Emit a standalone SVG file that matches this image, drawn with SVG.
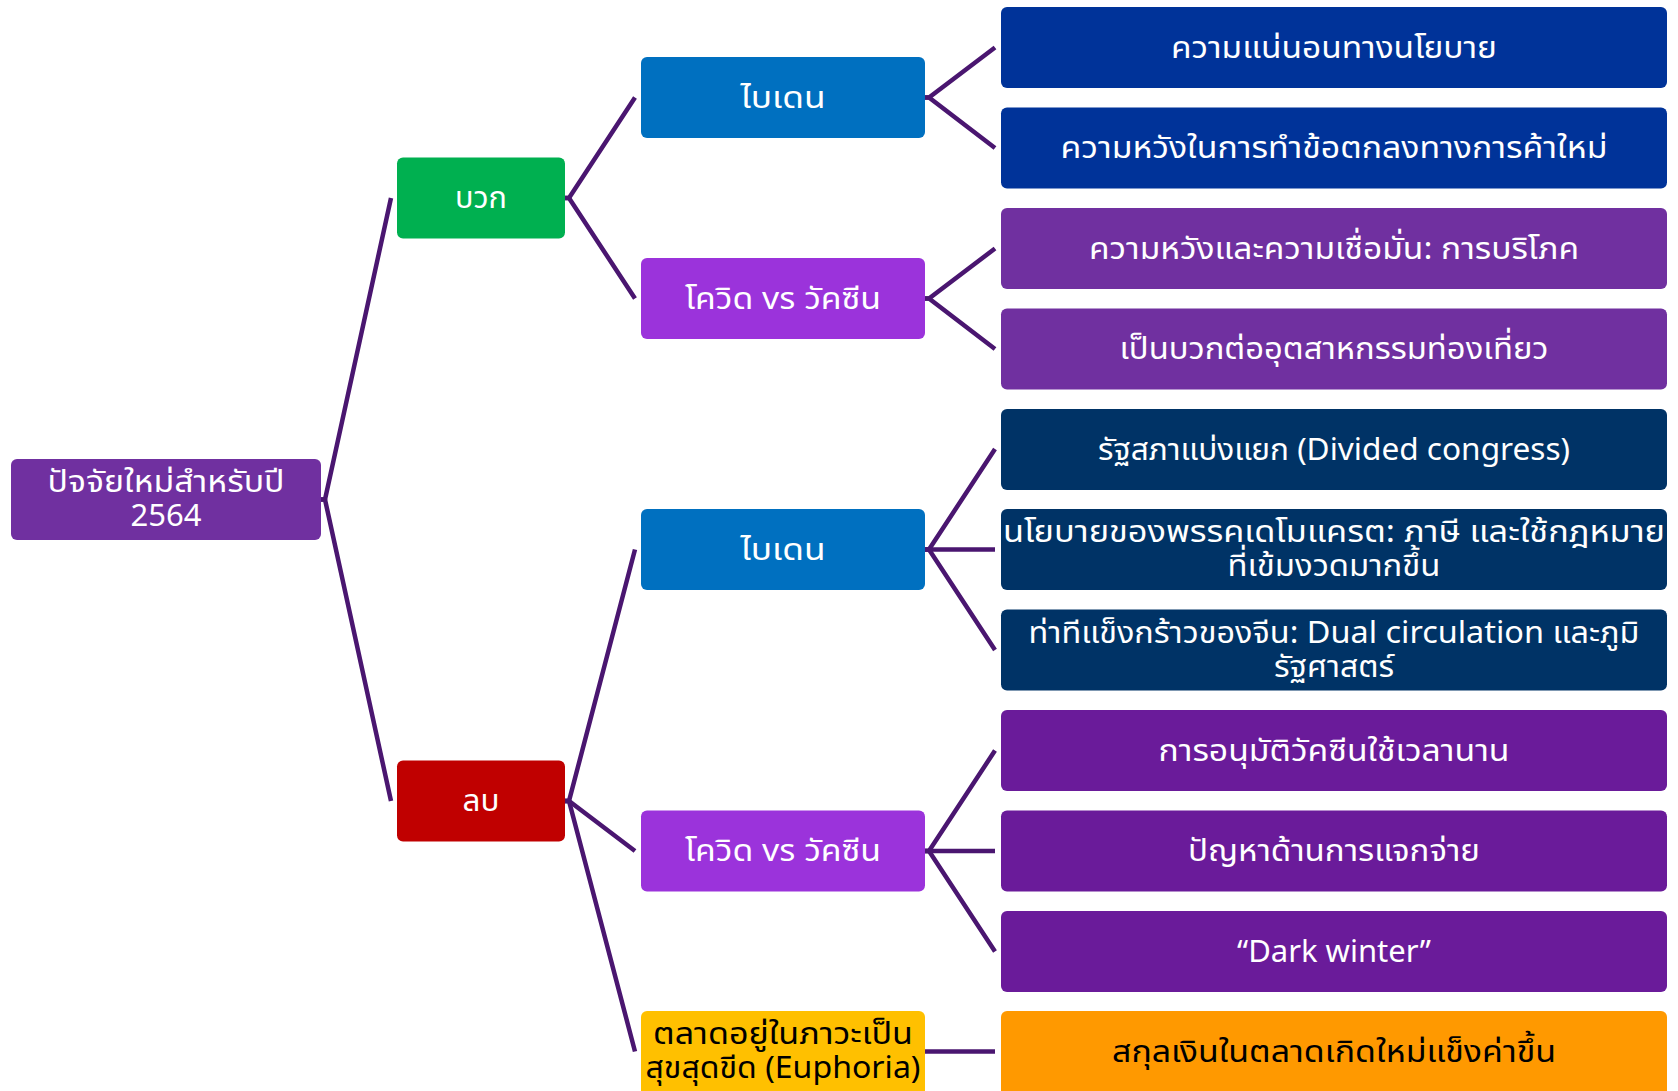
<svg xmlns="http://www.w3.org/2000/svg" width="1678" height="1091" viewBox="0 0 1678 1091">
<style>
.t{font-family:Tahoma,"Noto Sans Thai","Noto Sans","DejaVu Sans",sans-serif;font-size:31px;fill:#fff;text-anchor:middle}
.k{fill:#000}
.c{fill:none;stroke:#4A1670;stroke-width:4.5;stroke-linejoin:miter}
</style>
<rect width="1678" height="1091" fill="#fff"/>
<g id="connectors">
<path class="c" d="M321,499.5 L325,499.5 L391,198"/>
<path class="c" d="M321,499.5 L325,499.5 L391,801"/>
<path class="c" d="M565,198 L569,198 L635,97.5"/>
<path class="c" d="M565,198 L569,198 L635,298.5"/>
<path class="c" d="M565,801 L569,801 L635,549.5"/>
<path class="c" d="M565,801 L569,801 L635,851"/>
<path class="c" d="M565,801 L569,801 L635,1051.5"/>
<path class="c" d="M925,97.5 L929,97.5 L995,47.5"/>
<path class="c" d="M925,97.5 L929,97.5 L995,148"/>
<path class="c" d="M925,298.5 L929,298.5 L995,248.5"/>
<path class="c" d="M925,298.5 L929,298.5 L995,349"/>
<path class="c" d="M925,549.5 L929,549.5 L995,449"/>
<path class="c" d="M925,549.5 L995,549.5"/>
<path class="c" d="M925,549.5 L929,549.5 L995,650"/>
<path class="c" d="M925,851 L929,851 L995,750.5"/>
<path class="c" d="M925,851 L995,851"/>
<path class="c" d="M925,851 L929,851 L995,951.5"/>
<path class="c" d="M925,1051.5 L995,1051.5"/>
</g>
<g id="root"><rect x="11" y="459" width="310" height="81" rx="6" fill="#7030A0"/><text class="t" x="166" y="492" textLength="237" lengthAdjust="spacingAndGlyphs">ปัจจัยใหม่สำหรับปี</text><text class="t" x="166" y="526">2564</text></g>
<g id="pos"><rect x="397" y="157.5" width="168" height="81" rx="6" fill="#00B050"/><text class="t" x="481" y="208" textLength="52" lengthAdjust="spacingAndGlyphs">บวก</text></g>
<g id="neg"><rect x="397" y="760.5" width="168" height="81" rx="6" fill="#C00000"/><text class="t" x="481" y="811" textLength="37" lengthAdjust="spacingAndGlyphs">ลบ</text></g>
<g id="pos-biden"><rect x="641" y="57" width="284" height="81" rx="6" fill="#0070C0"/><text class="t" x="783" y="107.5" textLength="85" lengthAdjust="spacingAndGlyphs">ไบเดน</text></g>
<g id="pos-covid"><rect x="641" y="258" width="284" height="81" rx="6" fill="#9B33DB"/><text class="t" x="783" y="308.5" textLength="196" lengthAdjust="spacingAndGlyphs">โควิด vs วัคซีน</text></g>
<g id="neg-biden"><rect x="641" y="509" width="284" height="81" rx="6" fill="#0070C0"/><text class="t" x="783" y="559.5" textLength="85" lengthAdjust="spacingAndGlyphs">ไบเดน</text></g>
<g id="neg-covid"><rect x="641" y="810.5" width="284" height="81" rx="6" fill="#9B33DB"/><text class="t" x="783" y="861" textLength="196" lengthAdjust="spacingAndGlyphs">โควิด vs วัคซีน</text></g>
<g id="neg-market"><rect x="641" y="1011" width="284" height="90" rx="6" fill="#FFC000"/><text class="t k" x="783" y="1044" textLength="260" lengthAdjust="spacingAndGlyphs">ตลาดอยู่ในภาวะเป็น</text><text class="t k" x="783" y="1078" textLength="275" lengthAdjust="spacingAndGlyphs">สุขสุดขีด (Euphoria)</text></g>
<g id="leaf0"><rect x="1001" y="7" width="666" height="81" rx="6" fill="#003399"/><text class="t" x="1334" y="57.5" textLength="326" lengthAdjust="spacingAndGlyphs">ความแน่นอนทางนโยบาย</text></g>
<g id="leaf1"><rect x="1001" y="107.5" width="666" height="81" rx="6" fill="#003399"/><text class="t" x="1334" y="158" textLength="547" lengthAdjust="spacingAndGlyphs">ความหวังในการทำข้อตกลงทางการค้าใหม่</text></g>
<g id="leaf2"><rect x="1001" y="208" width="666" height="81" rx="6" fill="#7030A0"/><text class="t" x="1334" y="258.5" textLength="490" lengthAdjust="spacingAndGlyphs">ความหวังและความเชื่อมั่น: การบริโภค</text></g>
<g id="leaf3"><rect x="1001" y="308.5" width="666" height="81" rx="6" fill="#7030A0"/><text class="t" x="1334" y="359" textLength="429" lengthAdjust="spacingAndGlyphs">เป็นบวกต่ออุตสาหกรรมท่องเที่ยว</text></g>
<g id="leaf4"><rect x="1001" y="409" width="666" height="81" rx="6" fill="#003366"/><text class="t" x="1334" y="459.5" textLength="472" lengthAdjust="spacingAndGlyphs">รัฐสภาแบ่งแยก (Divided congress)</text></g>
<g id="leaf5"><rect x="1001" y="509" width="666" height="81" rx="6" fill="#003366"/><text class="t" x="1334" y="542" textLength="662" lengthAdjust="spacingAndGlyphs">นโยบายของพรรคเดโมแครต: ภาษี และใช้กฎหมาย</text><text class="t" x="1334" y="576" textLength="213" lengthAdjust="spacingAndGlyphs">ที่เข้มงวดมากขึ้น</text></g>
<g id="leaf6"><rect x="1001" y="609.5" width="666" height="81" rx="6" fill="#003366"/><text class="t" x="1334" y="643" textLength="611" lengthAdjust="spacingAndGlyphs">ท่าทีแข็งกร้าวของจีน: Dual circulation และภูมิ</text><text class="t" x="1334" y="677" textLength="120" lengthAdjust="spacingAndGlyphs">รัฐศาสตร์</text></g>
<g id="leaf7"><rect x="1001" y="710" width="666" height="81" rx="6" fill="#6A1B9A"/><text class="t" x="1334" y="760.5" textLength="351" lengthAdjust="spacingAndGlyphs">การอนุมัติวัคซีนใช้เวลานาน</text></g>
<g id="leaf8"><rect x="1001" y="810.5" width="666" height="81" rx="6" fill="#6A1B9A"/><text class="t" x="1334" y="861" textLength="292" lengthAdjust="spacingAndGlyphs">ปัญหาด้านการแจกจ่าย</text></g>
<g id="leaf9"><rect x="1001" y="911" width="666" height="81" rx="6" fill="#6A1B9A"/><text class="t" x="1334" y="961.5">“Dark winter”</text></g>
<g id="leaf10"><rect x="1001" y="1011" width="666" height="90" rx="6" fill="#FF9900"/><text class="t k" x="1334" y="1062" textLength="444" lengthAdjust="spacingAndGlyphs">สกุลเงินในตลาดเกิดใหม่แข็งค่าขึ้น</text></g>
</svg>
